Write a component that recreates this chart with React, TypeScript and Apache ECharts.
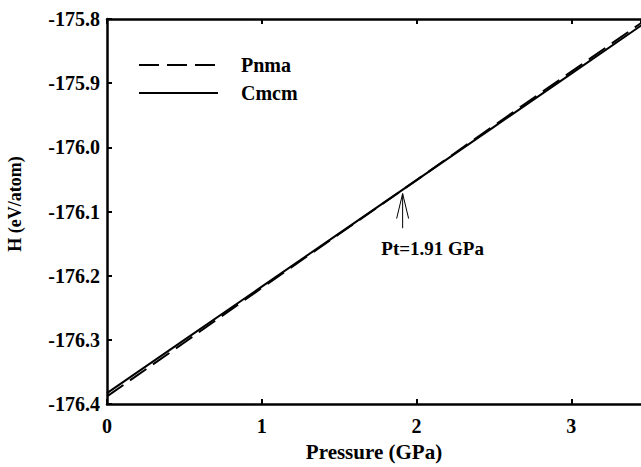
import React, { useEffect, useRef } from "react";
import * as echarts from "echarts";

const pressure = [0, 0.5, 1, 1.5, 2, 2.5, 3, 3.5];
const pnma = [-176.388, -176.304, -176.219, -176.135, -176.051, -175.966, -175.882, -175.798];
const cmcm = [-176.383, -176.3, -176.217, -176.134, -176.051, -175.968, -175.885, -175.802];
const seriesNames = ["Pnma", "Cmcm"];
const transitionP = 1.91;
const arrowTipH = -176.072;
const arrowTailH = -176.126;
const labelH = -176.157;
const labelText = "Pt=1.91 GPa";
const yTitle = "H (eV/atom)";
const xTitle = "Pressure (GPa)";

const FONT = "'Liberation Serif', 'Times New Roman', serif";

export default function App() {
  const ref = useRef<HTMLDivElement>(null);
  useEffect(() => {
    if (!ref.current) return;
    const chart = echarts.init(ref.current, null, { renderer: "svg" });
    const axisLine = { show: true, lineStyle: { color: "#000", width: 2.5 } };
    const tick = { show: true, inside: true, length: 5, lineStyle: { color: "#000", width: 2 } };
    chart.setOption({
      animation: false,
      backgroundColor: "#fff",
      grid: { left: 107, right: 0, top: 19, bottom: 59, containLabel: false },
      legend: {
        orient: "vertical",
        left: 133,
        top: 50,
        itemWidth: 79,
        itemHeight: 14,
        itemGap: 8,
        data: seriesNames,
        itemStyle: { opacity: 0 },
        textStyle: {
          fontFamily: FONT,
          fontWeight: "bold",
          fontSize: 20,
          color: "#000",
          padding: [5, 0, 0, 18],
        },
      },
      graphic: [
        {
          type: "text",
          x: 15,
          y: 204,
          rotation: Math.PI / 2,
          style: {
            text: yTitle,
            fill: "#000",
            font: `bold 18px ${FONT}`,
            align: "center",
            verticalAlign: "middle",
          },
        },
      ],
      xAxis: [
        {
          type: "value",
          min: 0,
          max: 3.45,
          interval: 1,
          position: "bottom",
          axisLine,
          axisTick: tick,
          axisLabel: {
            showMaxLabel: false,
            margin: 12,
            fontFamily: FONT,
            fontWeight: "bold",
            fontSize: 20,
            color: "#000",
          },
          splitLine: { show: false },
          name: xTitle,
          nameLocation: "middle",
          nameGap: 34,
          nameTextStyle: { fontFamily: FONT, fontWeight: "bold", fontSize: 21, color: "#000" },
        },
        {
          type: "value",
          min: 0,
          max: 3.45,
          interval: 1,
          position: "top",
          axisLine,
          axisTick: tick,
          axisLabel: { show: false },
          splitLine: { show: false },
        },
      ],
      yAxis: {
        type: "value",
        min: -176.4,
        max: -175.8,
        interval: 0.1,
        axisLine,
        axisTick: tick,
        axisLabel: {
          margin: 7,
          formatter: (v: number) => v.toFixed(1),
          fontFamily: FONT,
          fontWeight: "bold",
          fontSize: 20,
          color: "#000",
        },
        splitLine: { show: false },
      },
      series: [
        {
          name: seriesNames[0],
          type: "line",
          symbol: "none",
          data: pressure.map((p, i) => [p, pnma[i]]),
          lineStyle: { color: "#000", width: 2, type: [20, 8] },
          itemStyle: { color: "#000" },
        },
        {
          name: seriesNames[1],
          type: "line",
          symbol: "none",
          data: pressure.map((p, i) => [p, cmcm[i]]),
          lineStyle: { color: "#000", width: 2, type: "solid" },
          itemStyle: { color: "#000" },
        },
        {
          name: "annotation",
          type: "custom",
          silent: true,
          data: [[transitionP, arrowTipH, arrowTailH, labelH]],
          renderItem: (params: any, api: any) => {
            const tip = api.coord([api.value(0), api.value(1)]);
            const tail = api.coord([api.value(0), api.value(2)]);
            const lab = api.coord([api.value(0), api.value(3)]);
            const style = { stroke: "#000", lineWidth: 1 };
            return {
              type: "group",
              children: [
                { type: "line", shape: { x1: tail[0], y1: tail[1], x2: tip[0], y2: tip[1] }, style },
                { type: "line", shape: { x1: tip[0], y1: tip[1], x2: tip[0] - 6, y2: tip[1] + 25 }, style },
                { type: "line", shape: { x1: tip[0], y1: tip[1], x2: tip[0] + 6, y2: tip[1] + 25 }, style },
                {
                  type: "text",
                  x: lab[0] + 30,
                  y: lab[1],
                  style: {
                    text: labelText,
                    fill: "#000",
                    font: `bold 19px ${FONT}`,
                    align: "center",
                    verticalAlign: "middle",
                  },
                },
              ],
            };
          },
        },
      ],
    });
    return () => chart.dispose();
  }, []);
  return (
    <div
      ref={ref}
      style={{ position: "fixed", left: 0, top: 0, width: 641, height: 467, background: "#fff" }}
    />
  );
}
